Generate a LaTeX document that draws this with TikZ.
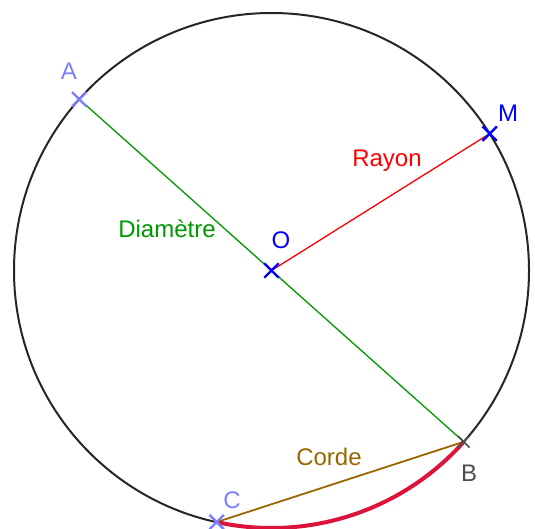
\documentclass[tikz,border=0pt]{standalone}
\usepackage{fontspec}
\setmainfont{Liberation Sans}
\usetikzlibrary{shapes.misc}
\definecolor{ggreen}{RGB}{0,153,0}
\definecolor{gred}{RGB}{255,0,0}
\definecolor{gbrown}{RGB}{153,102,0}
\definecolor{garc}{RGB}{220,20,60}
\definecolor{lblue}{RGB}{125,125,255}
\definecolor{gblue}{RGB}{0,0,255}
\definecolor{ggray}{RGB}{77,77,77}
\tikzset{
  ptmark/.style={cross out, draw=#1, minimum size=12pt, inner sep=0pt, line width=2.4pt},
  lbl/.style={font=\fontsize{24}{26}\selectfont, inner sep=0pt, text=#1},
}
\begin{document}
\begin{tikzpicture}[x=1pt,y=1pt]
\useasboundingbox (0,0) rectangle (535,-528);
\fill[white] (0,0) rectangle (535,-528);
\coordinate (O) at (271.5,-270.5);
\coordinate (A) at ([shift={(138.3:257.5pt)}]O);
\coordinate (B) at ([shift={(-41.7:257.5pt)}]O);
\coordinate (M) at ([shift={(32.1:257.5pt)}]O);
\coordinate (C) at ([shift={(-102.3:257.5pt)}]O);
% circle
\draw[line width=2pt, black!85] (O) circle[radius=257.5pt];
% diameter, radius, chord
\draw[line width=1.3pt, ggreen] (A) -- (B);
\draw[line width=1.3pt, gred] (O) -- (M);
\draw[line width=1.8pt, gbrown] (C) -- (B);
\draw[line width=4pt, garc] (C) arc[start angle=-102.3, end angle=-41.7, radius=257.5pt];
% point marks
\node[ptmark=lblue] (mA) at (A) {};
\node[ptmark=lblue] (mC) at (C) {};
\node[ptmark=gblue] (mO) at (O) {};
\node[ptmark=gblue] (mM) at (M) {};
\node[ptmark=ggray, line width=1.6pt, minimum size=10pt] (mB) at (B) {};
% point labels
\node[lbl=lblue] (lA) at (69,-71) {A};
\node[lbl=lblue] (lC) at (232,-500) {C};
\node[lbl=gblue] (lO) at (281,-240) {O};
\node[lbl=gblue] (lM) at (508,-113) {M};
\node[lbl=ggray] (lB) at (469,-473) {B};
% segment labels
\node[lbl=ggreen] (tD) at (167,-229) {Diamètre};
\node[lbl=gred] (tR) at (387,-161) {Rayon};
\node[lbl=gbrown] (tC) at (329,-457) {Corde};
\end{tikzpicture}
\end{document}
